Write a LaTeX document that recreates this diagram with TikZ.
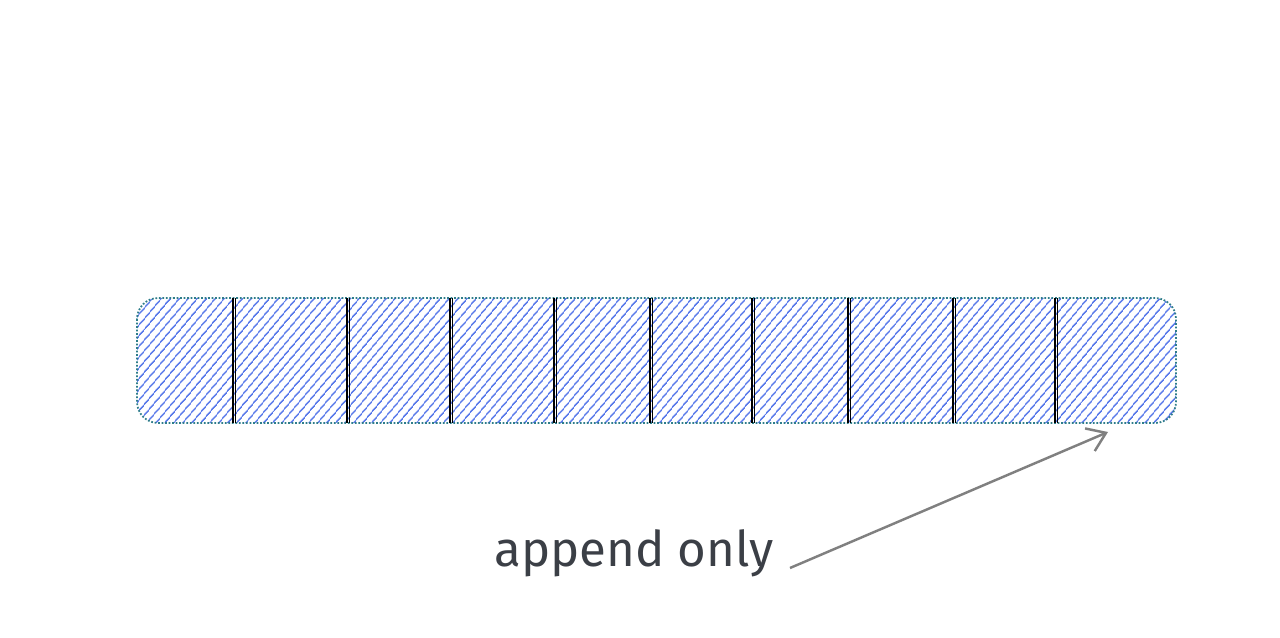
\documentclass[tikz,border=0pt]{standalone}
\usepackage{fontspec}
\setmainfont{Fira Sans}
\usetikzlibrary{patterns.meta,positioning,arrows.meta}
\definecolor{hatch}{HTML}{5B7BEA}
\definecolor{rim}{HTML}{2E7D8A}
\definecolor{ink}{HTML}{3B3F46}
\tikzset{>=latex,
  logbox/.style={rounded corners=12pt,draw=rim,densely dotted,line width=1pt,
    pattern={Lines[angle=50,distance=4pt,line width=0.9pt]},pattern color=hatch},
  divider/.style={draw=black,line width=0.9pt}}
\begin{document}
\begin{tikzpicture}[x=0.02cm,y=-0.02cm]
    \useasboundingbox (0,0) rectangle (1280,638);
    \draw [logbox] (137,298) rectangle (1176,423);

    \foreach \x in {233,347,450,554,650,752,848,953,1055}
      \draw [divider] (\x,298) -- (\x,423) (\x+2.5,298) -- (\x+2.5,423);

    \coordinate (tip) at (1108,432);
    \coordinate (tail) at (790,568);
    \node [ink,font=\fontsize{28}{28}\selectfont] (lbl) at (634,553) {append only};
    \draw [-{Straight Barb[length=10pt,width=14pt]},draw=gray,line width=1.4pt] (tail) -- (tip);
  \end{tikzpicture}
\end{document}
